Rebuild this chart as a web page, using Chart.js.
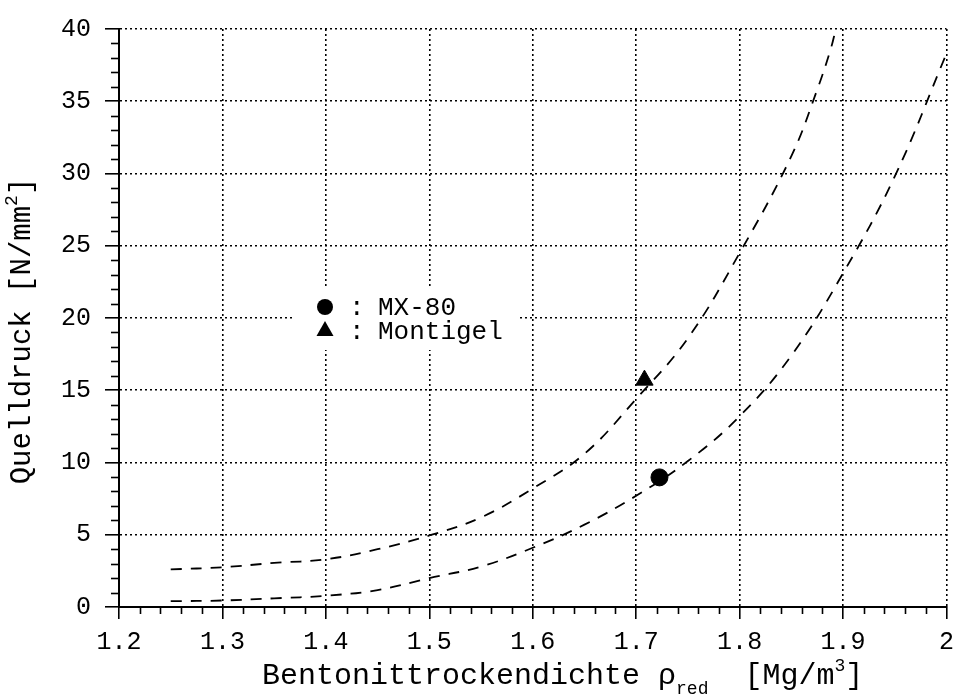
<!DOCTYPE html>
<html><head><meta charset="utf-8">
<script src="https://cdn.jsdelivr.net/npm/chart.js@4/dist/chart.umd.min.js"></script>
<style>html,body{margin:0;padding:0;background:#fff}#wrap{width:962px;height:699px;position:relative}</style>
</head><body><div id="wrap"><canvas id="c" width="962" height="699"></canvas></div>
<script>
// ---- data ----
const mx80CurveX      = [1.25,1.30,1.35,1.40,1.45,1.50,1.55,1.60,1.65,1.70,1.75,1.80,1.85,1.90,1.95,2.00];
const mx80CurveY      = [0.40,0.45,0.60,0.78,1.17,2.00,2.80,4.10,5.70,7.70,10.1,13.2,17.4,23.1,29.8,38.3];
const montigelCurveX  = [1.25,1.30,1.35,1.40,1.45,1.50,1.55,1.60,1.65,1.70,1.75,1.80,1.85,1.875,1.888,1.893];
const montigelCurveY  = [2.60,2.75,3.05,3.30,4.00,4.95,6.20,8.20,10.6,14.4,18.6,24.5,31.2,35.8,38.6,40.0];
const mx80PointX      = [1.7225];
const mx80PointY      = [8.97];
const montigelPointX  = [1.708];
const montigelPointY  = [15.7];
const xTickLabels     = ['1.2','1.3','1.4','1.5','1.6','1.7','1.8','1.9','2'];
const yTickLabels     = ['0','5','10','15','20','25','30','35','40'];
const legendLabels    = ['MX-80','Montigel'];
const xTitleParts     = ['Bentonittrockendichte \u03C1','red','  [Mg/m','3',']'];
const yTitleParts     = ['Quelldruck [N/mm','2',']'];

const FONT = "'Liberation Mono','DejaVu Sans Mono',monospace";
const toPts = (xs, ys) => xs.map((x, i) => ({x, y: ys[i]}));

const minorTicks = {
  id: 'minorTicks',
  afterDraw(chart) {
    const {ctx} = chart; const xs = chart.scales.x, ys = chart.scales.y;
    ctx.save(); ctx.strokeStyle = '#000'; ctx.lineWidth = 1.6; ctx.setLineDash([]);
    for (let i = 0; i <= 40; i++) {
      if (i % 5 === 0) continue;
      const px = Math.round(xs.getPixelForValue(1.2 + i * 0.02)) + 0.5;
      ctx.beginPath(); ctx.moveTo(px, ys.bottom); ctx.lineTo(px, ys.bottom + 7); ctx.stroke();
      const py = Math.round(ys.getPixelForValue(i)) + 0.5;
      ctx.beginPath(); ctx.moveTo(xs.left - 8, py); ctx.lineTo(xs.left, py); ctx.stroke();
    }
    ctx.restore();
  }
};

const titles = {
  id: 'titles',
  afterDraw(chart) {
    const {ctx} = chart;
    const big = '30px ' + FONT, small = '18px ' + FONT;
    ctx.save(); ctx.fillStyle = '#000'; ctx.textBaseline = 'alphabetic'; ctx.textAlign = 'left';
    // x title
    const segs = [[xTitleParts[0], big, 0],[xTitleParts[1], small, 10],[xTitleParts[2], big, 0],[xTitleParts[3], small, -13],[xTitleParts[4], big, 0]];
    let x = 262; const base = 684;
    segs.forEach(s => { ctx.font = s[1]; ctx.fillText(s[0], x, base + s[2]); x += ctx.measureText(s[0]).width; });
    // y title rotated
    ctx.translate(30, 331); ctx.rotate(-Math.PI / 2);
    const ysegs = [[yTitleParts[0], '29px ' + FONT, 0],[yTitleParts[1], small, -13],[yTitleParts[2], '29px ' + FONT, 0]];
    let w = 0; ysegs.forEach(s => { ctx.font = s[1]; w += ctx.measureText(s[0]).width; });
    x = -w / 2;
    ysegs.forEach(s => { ctx.font = s[1]; ctx.fillText(s[0], x, s[2]); x += ctx.measureText(s[0]).width; });
    ctx.restore();
  }
};

const legendBox = {
  id: 'legendBox',
  afterDatasetsDraw(chart) {
    const {ctx} = chart;
    ctx.save();
    ctx.fillStyle = '#fff'; ctx.fillRect(292, 288, 228, 62);
    ctx.fillStyle = '#000';
    ctx.beginPath(); ctx.arc(325, 307, 8, 0, Math.PI * 2); ctx.fill();
    ctx.beginPath(); ctx.moveTo(325, 321); ctx.lineTo(333.5, 336); ctx.lineTo(316.5, 336); ctx.closePath(); ctx.fill();
    ctx.font = '26px ' + FONT; ctx.textBaseline = 'alphabetic'; ctx.textAlign = 'left';
    ctx.fillText(':', 349, 315); ctx.fillText(legendLabels[0], 378, 315);
    ctx.fillText(':', 349, 339); ctx.fillText(legendLabels[1], 378, 339);
    ctx.restore();
  }
};

new Chart(document.getElementById('c'), {
  type: 'scatter',
  data: {
    datasets: [
      {label: 'MX-80 curve', data: toPts(mx80CurveX, mx80CurveY), showLine: true, borderColor: '#000', borderWidth: 1.8, borderDash: [11, 9], pointRadius: 0, tension: 0.4, fill: false},
      {label: 'Montigel curve', data: toPts(montigelCurveX, montigelCurveY), showLine: true, borderColor: '#000', borderWidth: 1.8, borderDash: [11, 9], pointRadius: 0, tension: 0.4, fill: false},
      {label: 'MX-80', data: toPts(mx80PointX, mx80PointY), showLine: false, pointStyle: 'circle', pointRadius: 8.5, backgroundColor: '#000', borderColor: '#000'},
      {label: 'Montigel', data: toPts(montigelPointX, montigelPointY), showLine: false, pointStyle: 'triangle', pointRadius: 10, backgroundColor: '#000', borderColor: '#000'}
    ]
  },
  options: {
    responsive: false, animation: false, devicePixelRatio: 1,
    layout: {padding: {top: 27, right: 6, left: 0, bottom: 0}},
    plugins: {legend: {display: false}, tooltip: {enabled: false}, title: {display: false}},
    scales: {
      x: {
        type: 'linear', min: 1.2, max: 2.0,
        afterFit(s) { s.height = 92; },
        afterBuildTicks(s) { s.ticks = xTickLabels.map((l, i) => ({value: 1.2 + i * 0.1})); },
        ticks: {autoSkip: false, maxRotation: 0, padding: 8, color: '#000', font: {family: FONT, size: 25},
          callback: (v, i) => xTickLabels[i]},
        grid: {color: '#000', lineWidth: 1.6, tickLength: 12, tickColor: '#000', tickWidth: 1.6, tickBorderDash: []},
        border: {display: true, color: '#000', width: 2, dash: [2, 3]}
      },
      y: {
        type: 'linear', min: 0, max: 40,
        afterFit(s) { s.width = 119; },
        afterBuildTicks(s) { s.ticks = yTickLabels.map(l => ({value: Number(l)})); },
        ticks: {autoSkip: false, padding: 14, color: '#000', font: {family: FONT, size: 25},
          callback: (v, i) => yTickLabels[i]},
        grid: {color: '#000', lineWidth: 1.6, tickLength: 14, tickColor: '#000', tickWidth: 1.6, tickBorderDash: []},
        border: {display: true, color: '#000', width: 2, dash: [2, 3]}
      }
    }
  },
  plugins: [minorTicks, titles, legendBox]
});
</script></body></html>
